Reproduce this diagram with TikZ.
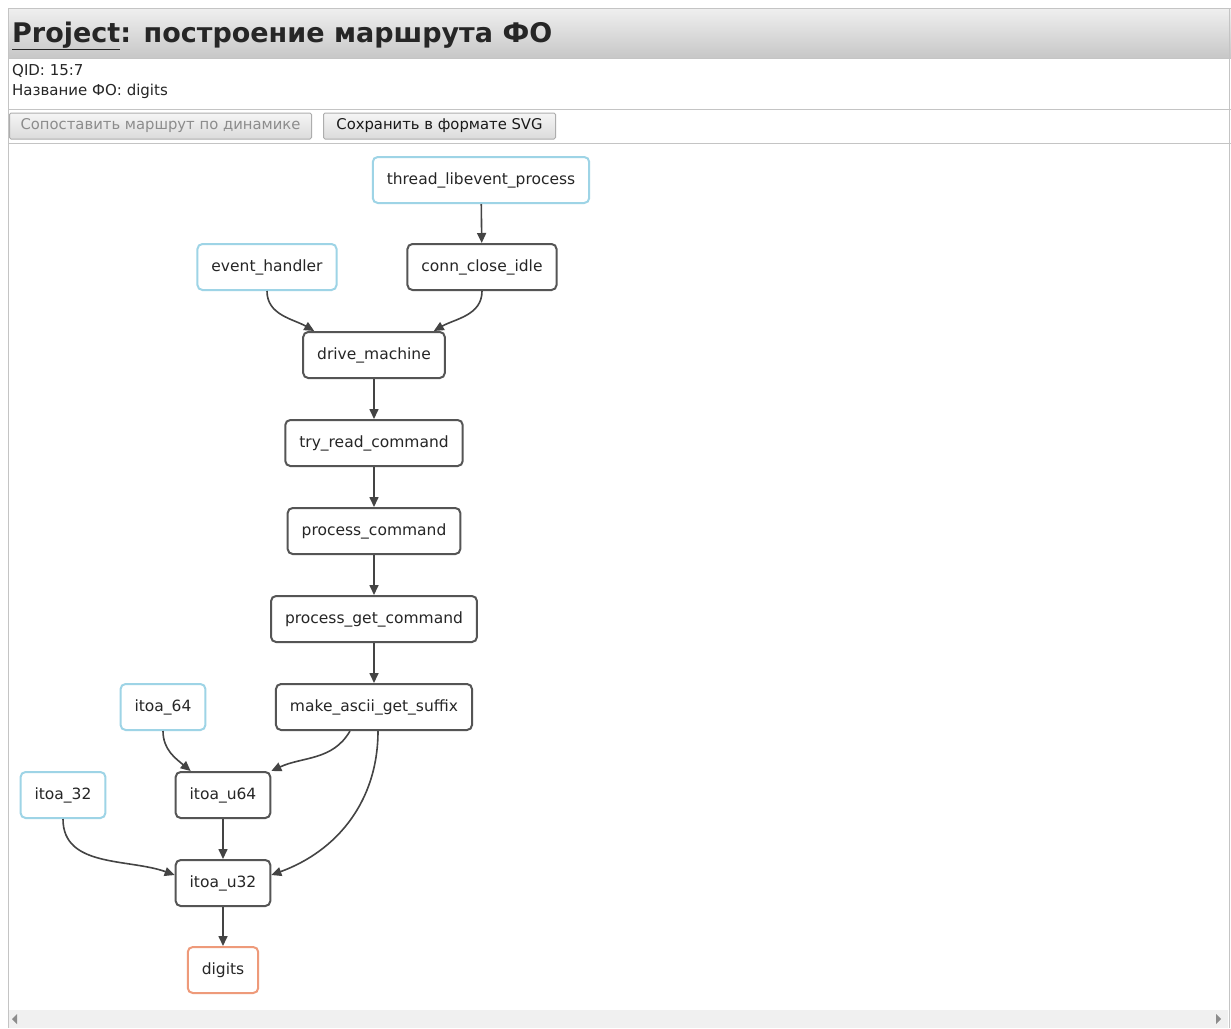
\documentclass[tikz,border=0pt]{standalone}
\usepackage{fontspec}
\setmainfont{DejaVu Sans}
\usetikzlibrary{arrows.meta}
\definecolor{edgegray}{HTML}{444444}
\definecolor{boxgray}{HTML}{555555}
\definecolor{rootblue}{HTML}{9ED4E6}
\definecolor{targetred}{HTML}{EE9A7A}
\definecolor{rulegray}{HTML}{C4C4C4}
\definecolor{btngray}{HTML}{ADADAD}
\tikzset{
	fn/.style={draw=boxgray,line width=2pt,rounded corners=5pt,fill=white,minimum height=46pt,inner xsep=14pt,font=\fontsize{15.5}{18}\selectfont,text=black!85},
	rootfn/.style={fn,draw=rootblue},
	targetfn/.style={fn,draw=targetred},
	call/.style={draw=edgegray,line width=1.6pt,-{Triangle[length=10pt,width=9pt]}},
	btn/.style={draw=btngray,line width=1pt,rounded corners=1.5pt,top color=white!96!black,bottom color=white!86!black,minimum height=26pt,inner xsep=10pt,font=\fontsize{14.8}{17}\selectfont,anchor=west}
}
\begin{document}
\begin{tikzpicture}[x=1pt,y=-1pt]
	\useasboundingbox (0,0) rectangle (1231,1028);
	\fill[white] (0,0) rectangle (1231,1028);
	% frame and header
	\shade[top color=white!94!black,bottom color=white!78!black] (8,8) rectangle (1231,58);
	\draw[rulegray,line width=1pt] (8,8) -- (1231,8);
	\draw[rulegray,line width=1pt] (8,8) -- (8,1028);
	\draw[rulegray,line width=1pt] (1229,8) -- (1229,1028);
	\draw[rulegray,line width=1pt] (8,58) -- (1231,58);
	\draw[rulegray,line width=1pt] (8,109) -- (1231,109);
	\draw[rulegray,line width=1pt] (8,143) -- (1231,143);
	\node[anchor=base west,inner sep=0pt,font=\bfseries\fontsize{27}{31}\selectfont,text=black!85] (title) at (12,42) {\underline{Project}: построение маршрута ФО};
	\node[anchor=north west,inner sep=0pt,align=left,font=\fontsize{15}{20}\selectfont,text=black!85] (info) at (12,64) {QID: 15:7\\Название ФО: digits};
	\node[btn,text=black!45,minimum width=302pt] (cmp) at (9,126) {Сопоставить маршрут по динамике};
	\node[btn,text=black!90,minimum width=232pt] (svg) at (323,126) {Сохранить в формате SVG};
	% scrollbar
	\fill[white!94!black] (9,1010) rectangle (1228,1028);
	\fill[black!45] (17,1014) -- (17,1024) -- (12,1019) -- cycle;
	\fill[black!45] (1216,1014) -- (1216,1024) -- (1221,1019) -- cycle;
	% call graph
	\node[rootfn] (tlp) at (481,180) {thread\_libevent\_process};
	\node[rootfn] (eh) at (267,267) {event\_handler};
	\node[fn] (cci) at (482,267) {conn\_close\_idle};
	\node[fn] (dm) at (374,355) {drive\_machine};
	\node[fn] (trc) at (374,443) {try\_read\_command};
	\node[fn] (pc) at (374,531) {process\_command};
	\node[fn] (pgc) at (374,619) {process\_get\_command};
	\node[fn] (mags) at (374,707) {make\_ascii\_get\_suffix};
	\node[rootfn] (i64) at (163,707) {itoa\_64};
	\node[fn] (iu64) at (223,795) {itoa\_u64};
	\node[rootfn] (i32) at (63,795) {itoa\_32};
	\node[fn] (iu32) at (223,883) {itoa\_u32};
	\node[targetfn] (dig) at (223,970) {digits};
	\draw[call] (tlp) -- (cci);
	\draw[call] (eh.south) to[out=-90,in=150] ([xshift=12pt]dm.north west);
	\draw[call] (cci.south) to[out=-90,in=30] ([xshift=-12pt]dm.north east);
	\draw[call] (dm) -- (trc);
	\draw[call] (trc) -- (pc);
	\draw[call] (pc) -- (pgc);
	\draw[call] (pgc) -- (mags);
	\draw[call] (i64.south) to[out=-90,in=140] ([xshift=16pt]iu64.north west);
	\draw[call] ([xshift=-24pt]mags.south) to[out=-120,in=25] (iu64.north east);
	\draw[call] (iu64) -- (iu32);
	\draw[call] ([xshift=4pt]mags.south) to[out=-90,in=20] ([yshift=-16pt]iu32.north east);
	\draw[call] (i32.south) to[out=-90,in=160] ([yshift=-16pt]iu32.north west);
	\draw[call] (iu32) -- (dig);
\end{tikzpicture}
\end{document}
